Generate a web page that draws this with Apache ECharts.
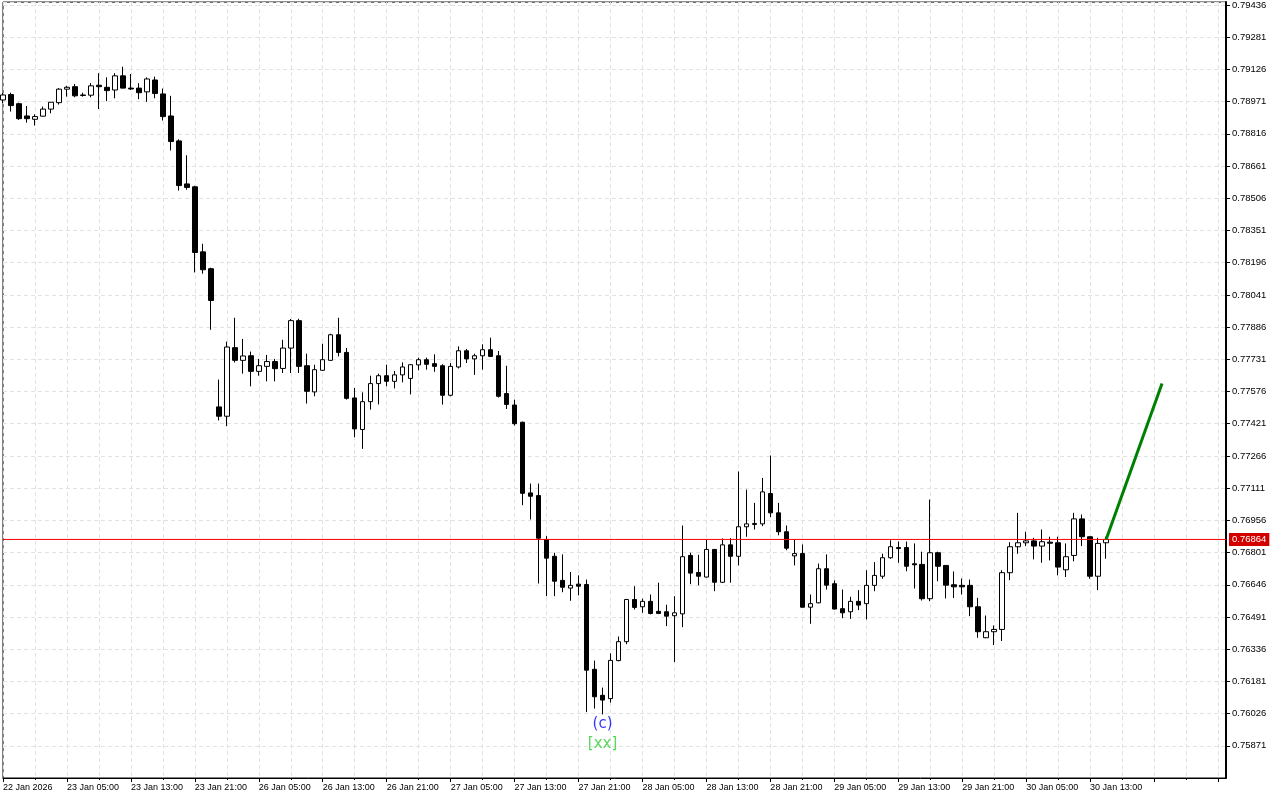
<!DOCTYPE html>
<html><head><meta charset="utf-8">
<script src="https://cdn.jsdelivr.net/npm/echarts@6/dist/echarts.min.js"></script>
<style>html,body{margin:0;padding:0;background:#fff}#c{width:1280px;height:800px}</style>
</head><body><div id="c"></div>
<script>
const tickLabels = ['22 Jan 2026','23 Jan 05:00','23 Jan 13:00','23 Jan 21:00','26 Jan 05:00','26 Jan 13:00','26 Jan 21:00','27 Jan 05:00','27 Jan 13:00','27 Jan 21:00','28 Jan 05:00','28 Jan 13:00','28 Jan 21:00','29 Jan 05:00','29 Jan 13:00','29 Jan 21:00','30 Jan 05:00','30 Jan 13:00'];

const opens = [0.78979,0.79005,0.78961,0.78902,0.78886,0.78901,0.78935,0.78966,0.79031,0.79043,
0.79003,0.79002,0.79050,0.79040,0.79027,0.79095,0.79036,0.79036,0.79018,0.79075,
0.79008,0.78902,0.78782,0.78575,0.78561,0.78248,0.78167,0.77502,0.77457,0.77787,
0.77726,0.77748,0.77673,0.77697,0.77720,0.77687,0.77785,0.77917,0.77700,0.77574,
0.77678,0.77726,0.77849,0.77764,0.77545,0.77393,0.77527,0.77614,0.77652,0.77625,
0.77656,0.77639,0.77704,0.77729,0.77710,0.77700,0.77558,0.77694,0.77772,0.77733,
0.77748,0.77777,0.77748,0.77566,0.77511,0.77428,0.77088,0.77075,0.76864,0.76783,
0.76667,0.76630,0.76649,0.76647,0.76239,0.76114,0.76098,0.76281,0.76372,0.76575,
0.76540,0.76566,0.76518,0.76516,0.76497,0.76506,0.76787,0.76705,0.76683,0.76816,
0.76658,0.76838,0.76783,0.76925,0.76936,0.76939,0.77085,0.76992,0.76901,0.76785,
0.76796,0.76538,0.76559,0.76723,0.76651,0.76531,0.76516,0.76566,0.76555,0.76643,
0.76687,0.76776,0.76825,0.76825,0.76747,0.76744,0.76579,0.76800,0.76739,0.76646,
0.76643,0.76643,0.76540,0.76391,0.76420,0.76431,0.76704,0.76829,0.76848,0.76857,
0.76832,0.76851,0.76848,0.76718,0.76787,0.76963,0.76877,0.76687,0.76848];
const closes = [0.79003,0.78952,0.78889,0.78889,0.78899,0.78935,0.78968,0.79031,0.79040,0.78999,
0.79001,0.79047,0.79043,0.79024,0.79095,0.79036,0.79032,0.79014,0.79080,0.79010,
0.78899,0.78779,0.78567,0.78558,0.78245,0.78162,0.78014,0.77457,0.77790,0.77726,
0.77747,0.77673,0.77700,0.77720,0.77686,0.77785,0.77917,0.77697,0.77577,0.77681,
0.77729,0.77849,0.77764,0.77543,0.77396,0.77527,0.77614,0.77652,0.77625,0.77656,
0.77694,0.77705,0.77729,0.77707,0.77697,0.77558,0.77697,0.77772,0.77733,0.77748,
0.77777,0.77745,0.77553,0.77514,0.77421,0.77086,0.77072,0.76870,0.76774,0.76663,
0.76634,0.76643,0.76639,0.76235,0.76107,0.76091,0.76282,0.76372,0.76575,0.76537,
0.76566,0.76508,0.76508,0.76495,0.76511,0.76781,0.76702,0.76687,0.76816,0.76658,
0.76838,0.76783,0.76925,0.76939,0.76941,0.77093,0.76992,0.76901,0.76822,0.76796,
0.76538,0.76555,0.76723,0.76644,0.76529,0.76511,0.76566,0.76548,0.76643,0.76691,
0.76776,0.76829,0.76820,0.76735,0.76742,0.76579,0.76800,0.76735,0.76644,0.76636,
0.76636,0.76540,0.76420,0.76420,0.76431,0.76704,0.76829,0.76848,0.76857,0.76832,
0.76853,0.76846,0.76731,0.76781,0.76963,0.76877,0.76687,0.76845,0.76864];
const lows = [0.78965,0.78923,0.78883,0.78870,0.78856,0.78899,0.78915,0.78957,0.78995,0.78992,
0.78995,0.78992,0.78935,0.78973,0.78987,0.79034,0.79027,0.78983,0.78970,0.78987,
0.78880,0.78736,0.78543,0.78547,0.78149,0.78143,0.77873,0.77437,0.77409,0.77716,
0.77662,0.77601,0.77652,0.77625,0.77625,0.77665,0.77665,0.77665,0.77518,0.77553,
0.77676,0.77724,0.77745,0.77537,0.77356,0.77300,0.77489,0.77514,0.77601,0.77591,
0.77620,0.77562,0.77678,0.77681,0.77671,0.77513,0.77553,0.77687,0.77713,0.77656,
0.77681,0.77742,0.77547,0.77492,0.77412,0.77029,0.76960,0.76652,0.76591,0.76591,
0.76610,0.76569,0.76595,0.76033,0.76050,0.76022,0.76079,0.76278,0.76360,0.76527,
0.76511,0.76503,0.76505,0.76447,0.76274,0.76442,0.76649,0.76643,0.76681,0.76615,
0.76654,0.76656,0.76739,0.76877,0.76912,0.76928,0.76971,0.76884,0.76812,0.76739,
0.76536,0.76458,0.76557,0.76623,0.76527,0.76485,0.76482,0.76524,0.76479,0.76615,
0.76675,0.76771,0.76752,0.76711,0.76628,0.76570,0.76567,0.76663,0.76580,0.76582,
0.76599,0.76495,0.76391,0.76389,0.76356,0.76375,0.76668,0.76795,0.76832,0.76768,
0.76752,0.76763,0.76691,0.76683,0.76759,0.76832,0.76675,0.76620,0.76771];
const highs = [0.79013,0.79014,0.78966,0.78950,0.78910,0.78947,0.78969,0.79036,0.79047,0.79056,
0.79014,0.79060,0.79108,0.79088,0.79108,0.79139,0.79104,0.79060,0.79088,0.79091,
0.79034,0.78999,0.78790,0.78713,0.78566,0.78287,0.78172,0.77633,0.77816,0.77931,
0.77829,0.77768,0.77733,0.77752,0.77733,0.77825,0.77925,0.77926,0.77758,0.77705,
0.77806,0.77854,0.77931,0.77785,0.77593,0.77572,0.77652,0.77662,0.77705,0.77675,
0.77716,0.77707,0.77739,0.77739,0.77755,0.77707,0.77713,0.77793,0.77781,0.77758,
0.77803,0.77835,0.77771,0.77700,0.77537,0.77431,0.77133,0.77133,0.76880,0.76800,
0.76792,0.76707,0.76691,0.76671,0.76281,0.76151,0.76316,0.76397,0.76578,0.76639,
0.76579,0.76599,0.76656,0.76550,0.76591,0.76931,0.76800,0.76790,0.76864,0.76818,
0.76869,0.76870,0.77191,0.77104,0.77040,0.77160,0.77268,0.77040,0.76931,0.76864,
0.76840,0.76599,0.76748,0.76792,0.76667,0.76623,0.76588,0.76620,0.76716,0.76755,
0.76796,0.76860,0.76854,0.76854,0.76845,0.76805,0.77056,0.76805,0.76741,0.76710,
0.76676,0.76671,0.76583,0.76498,0.76450,0.76716,0.76851,0.76992,0.76901,0.76872,
0.76912,0.76877,0.76877,0.76845,0.76992,0.76984,0.76879,0.76872,0.76877];

const currentPrice = 0.76864;
const priceLineBars = [0, 153];
const projectionBars = [138, 145];
const projectionPrices = [0.76864, 0.77614];
const waveText = ['(c)', '[xx]'];
const waveBars = [75, 75];
const wavePrices = [0.75976, 0.75880];
const waveColors = ['#0000ff', '#32cd32'];

const barCount = 154;
const cats = Array.from({length: barCount}, (_, i) => i);
const candles = opens.map((o, i) => [o, closes[i], lows[i], highs[i]]);
const FONT = 'Liberation Sans';

const chart = echarts.init(document.getElementById('c'), null, {renderer: 'canvas'});
chart.setOption({
  animation: false,
  backgroundColor: '#ffffff',
  grid: {left: 2, right: 54, top: 2, bottom: 22, show: true, borderColor: '#000', borderWidth: 1},
  xAxis: [{
    type: 'category', data: cats, boundaryGap: false, position: 'bottom',
    axisLine: {show: true, lineStyle: {color: '#000', width: 1}},
    axisTick: {show: true, interval: 7, length: 4, lineStyle: {color: '#000'}},
    axisLabel: {interval: 7, formatter: (v, idx) => tickLabels[idx / 8] || '', align: 'left', margin: 5,
      color: '#000', fontFamily: FONT, fontSize: 9},
    splitLine: {show: true, interval: 3, lineStyle: {color: '#e2e2e2', type: [4, 3]}}
  }, {
    type: 'category', data: cats, boundaryGap: false, position: 'bottom',
    axisLine: {show: false}, axisLabel: {show: false}, splitLine: {show: false},
    axisTick: {show: true, interval: 3, length: 2, lineStyle: {color: '#000'}}
  }],
  yAxis: {
    type: 'value', position: 'right', min: 0.75716, max: 0.7945, interval: 0.00155,
    axisLine: {show: true, lineStyle: {color: '#000', width: 2}},
    axisTick: {show: true, length: 4, lineStyle: {color: '#000'}},
    axisLabel: {showMinLabel: false, showMaxLabel: false, formatter: v => v.toFixed(5), margin: 6,
      color: '#000', fontFamily: FONT, fontSize: 9.5},
    splitLine: {show: true, lineStyle: {color: '#e2e2e2', type: [4, 3]}}
  },
  series: [
    {
      type: 'candlestick', data: candles, barWidth: 5, clip: false,
      itemStyle: {color: '#ffffff', color0: '#000000', borderColor: '#000000', borderColor0: '#000000', borderWidth: 1},
      emphasis: {disabled: true}
    },
    {
      type: 'line', data: priceLineBars.map(b => [b, currentPrice]), symbol: 'none', silent: true,
      lineStyle: {color: '#ff0000', width: 1}, z: 4,
      endLabel: {show: true, formatter: currentPrice.toFixed(5), backgroundColor: '#d40000',
        color: '#ffffff', padding: [2, 3, 1, 3], distance: 3, fontFamily: FONT, fontSize: 9.5}
    },
    {
      type: 'line', data: projectionBars.map((b, i) => [b, projectionPrices[i]]), symbol: 'none',
      lineStyle: {color: '#008000', width: 3}, z: 5, silent: true
    },
    {
      type: 'scatter', symbolSize: 0, silent: true,
      data: waveText.map((t, i) => ({value: [waveBars[i], wavePrices[i]],
        label: {show: true, formatter: t, color: waveColors[i], position: 'inside', fontSize: 15, fontFamily: 'DejaVu Sans'}}))
    }
  ]
});
</script></body></html>
